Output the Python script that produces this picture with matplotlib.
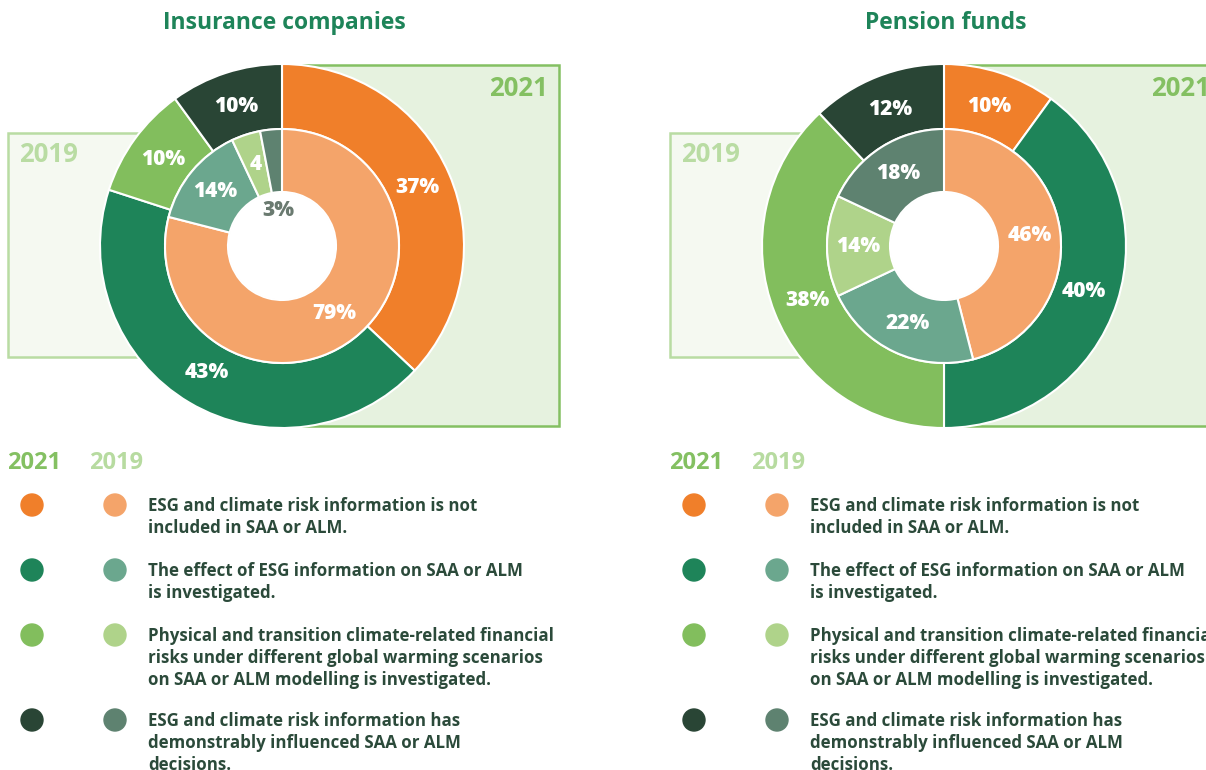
import numpy as np
import matplotlib.pyplot as plt
from matplotlib.patches import Rectangle, Circle

plt.rcParams['font.family'] = ['Open Sans', 'DejaVu Sans']

# data
panels = ["Insurance companies", "Pension funds"]
ins_2021 = [37, 43, 10, 10]
ins_2019 = [79, 14, 4, 3]
ins_2021_labels = ["37%", "43%", "10%", "10%"]
ins_2019_labels = ["79%", "14%", "4", "3%"]
pen_2021 = [10, 40, 38, 12]
pen_2019 = [46, 22, 14, 18]
pen_2021_labels = ["10%", "40%", "38%", "12%"]
pen_2019_labels = ["46%", "22%", "14%", "18%"]

legend_texts = [
    "ESG and climate risk information is not\nincluded in SAA or ALM.",
    "The effect of ESG information on SAA or ALM\nis investigated.",
    "Physical and transition climate-related financial\nrisks under different global warming scenarios\non SAA or ALM modelling is investigated.",
    "ESG and climate risk information has\ndemonstrably influenced SAA or ALM\ndecisions.",
]

colors_2021 = ["#f07f2a", "#1e8459", "#82be5d", "#294535"]
colors_2019 = ["#f4a46a", "#6ba78e", "#afd38a", "#5e8270"]
title_color = "#1e8459"
text_color = "#2b4a3a"

W, H = 1206, 770
fig = plt.figure(figsize=(W / 100, H / 100), dpi=100)
ax = fig.add_axes([0, 0, 1, 1])


def Y(y):
    return H - y


R_out, R_mid, R_in = 182, 117, 54


def draw_panel(x0, vals_out, vals_in, lab_out, lab_in, title, small_last=False):
    cx, cy = x0 + 282, Y(246)
    # background boxes
    ax.add_patch(Rectangle((cx, Y(426)), 277, 361, facecolor="#e6f2df",
                           edgecolor="#84c062", lw=1.8, zorder=0))
    ax.add_patch(Rectangle((x0 + 8, Y(357)), cx - x0 - 8, 224, facecolor="#f5f9f1",
                           edgecolor="#b9dca3", lw=1.8, zorder=0))
    ax.text(x0 + 548, Y(89), "2021", color="#84c062", fontsize=18.5,
            fontweight="bold", ha="right", va="center", zorder=1)
    ax.text(x0 + 19, Y(154), "2019", color="#b9dca3", fontsize=18.5,
            fontweight="bold", ha="left", va="center", zorder=1)

    ax.pie(vals_out, colors=colors_2021, startangle=90, counterclock=False,
           center=(cx, cy), radius=R_out,
           wedgeprops=dict(width=R_out - R_mid, edgecolor="white", linewidth=1.5))
    ax.pie(vals_in, colors=colors_2019, startangle=90, counterclock=False,
           center=(cx, cy), radius=R_mid,
           wedgeprops=dict(width=R_mid - R_in, edgecolor="white", linewidth=1.5))
    ax.add_patch(Circle((cx, cy), R_in - 0.5, facecolor="white", edgecolor="none",
                        zorder=2))

    for vals, labs, r in [(vals_out, lab_out, 147), (vals_in, lab_in, 86)]:
        cum = np.cumsum(vals) - np.array(vals) / 2
        for i, (c, lab) in enumerate(zip(cum, labs)):
            ang = np.deg2rad(c / sum(vals) * 360)
            rr, col = r, "white"
            if small_last and vals is vals_in and i == len(vals) - 1:
                rr, col = 36, "#6a7a70"
            ax.text(cx + rr * np.sin(ang), cy + rr * np.cos(ang), lab, color=col,
                    fontsize=15, fontweight="heavy", ha="center", va="center",
                    zorder=3)

    ax.text(cx + 2, Y(23), title, color=title_color, fontsize=16.5,
            fontweight="bold", ha="center", va="center")

    # legend
    ax.text(x0 + 7, Y(463), "2021", color="#84c062", fontsize=17,
            fontweight="bold", ha="left", va="center")
    ax.text(x0 + 89, Y(463), "2019", color="#b7dba0", fontsize=17,
            fontweight="bold", ha="left", va="center")
    rows = [505, 570, 635, 720]
    for yy, txt, c1, c2 in zip(rows, legend_texts, colors_2021, colors_2019):
        ax.add_patch(Circle((x0 + 32, Y(yy)), 11, color=c1))
        ax.add_patch(Circle((x0 + 115, Y(yy)), 11, color=c2))
        ax.text(x0 + 148, Y(yy - 8), txt, color=text_color, fontsize=12.2,
                fontweight="bold", ha="left", va="top", linespacing=1.3)


draw_panel(0, ins_2021, ins_2019, ins_2021_labels, ins_2019_labels, panels[0],
           small_last=True)
draw_panel(662, pen_2021, pen_2019, pen_2021_labels, pen_2019_labels, panels[1])

ax.set_xlim(0, W)
ax.set_ylim(0, H)
ax.set_aspect("auto")
ax.axis("off")
fig.savefig("out.png", dpi=100, facecolor="white")
